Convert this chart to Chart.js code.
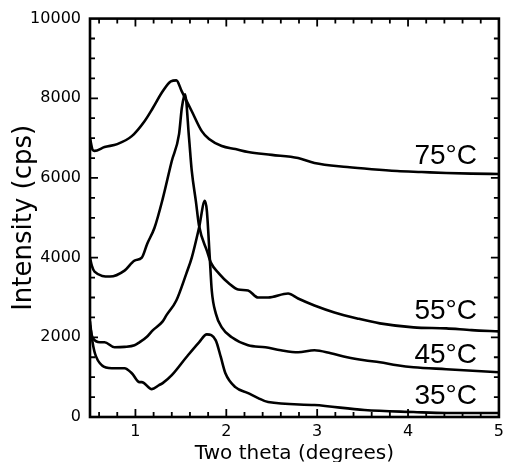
<!DOCTYPE html>
<html>
<head>
<meta charset="utf-8">
<script src="https://cdn.jsdelivr.net/npm/chart.js@4.4.1/dist/chart.umd.min.js"></script>
<style>
  html, body { margin: 0; padding: 0; background: #fff; }
  #wrap { width: 509px; height: 462px; }
</style>
</head>
<body>
<div id="wrap"><canvas id="xrd" width="509" height="462"></canvas></div>
<script>
// Values (two theta in degrees, intensity in cps)
const T75_X = [0.50, 0.53, 0.55, 0.66, 0.80, 0.96, 1.10, 1.19, 1.30, 1.39, 1.45, 1.51, 1.62, 1.73, 1.81, 1.95, 2.10, 2.24, 2.50, 2.79, 2.97, 3.33, 3.60, 3.88, 4.15, 4.42, 4.70, 5.00];
const T75_Y = [7000, 6700, 6680, 6775, 6850, 7050, 7425, 7750, 8175, 8425, 8450, 8175, 7675, 7175, 6975, 6800, 6725, 6650, 6580, 6500, 6375, 6275, 6220, 6175, 6150, 6125, 6110, 6100];

const T55_X = [0.50, 0.52, 0.55, 0.72, 0.88, 0.99, 1.07, 1.13, 1.21, 1.30, 1.40, 1.48, 1.51, 1.535, 1.546, 1.59, 1.62, 1.666, 1.70, 1.79, 1.83, 1.92, 2.03, 2.13, 2.24, 2.35, 2.46, 2.68, 2.79, 2.97, 3.19, 3.44, 3.69, 4.06, 4.42, 4.70, 5.00];
const T55_Y = [4000, 3800, 3650, 3525, 3675, 3925, 4000, 4350, 4750, 5475, 6425, 7100, 7750, 8050, 8100, 7000, 6175, 5400, 4800, 4150, 3875, 3600, 3350, 3200, 3175, 3000, 3000, 3100, 2975, 2800, 2625, 2475, 2350, 2250, 2225, 2180, 2150];

const T45_X = [0.50, 0.52, 0.533, 0.61, 0.66, 0.77, 0.88, 0.99, 1.045, 1.12, 1.19, 1.30, 1.34, 1.45, 1.56, 1.62, 1.70, 1.764, 1.786, 1.818, 1.84, 1.884, 1.95, 2.06, 2.24, 2.43, 2.60, 2.79, 2.97, 3.15, 3.33, 3.52, 3.69, 3.88, 4.06, 4.42, 5.00];
const T45_Y = [2300, 2050, 1975, 1875, 1875, 1750, 1760, 1800, 1875, 2000, 2175, 2400, 2550, 2925, 3600, 4000, 4750, 5425, 5175, 4000, 3175, 2600, 2250, 2000, 1800, 1750, 1675, 1625, 1675, 1600, 1500, 1425, 1375, 1300, 1250, 1200, 1125];

const T35_X = [0.50, 0.52, 0.554, 0.63, 0.74, 0.88, 0.96, 1.045, 1.07, 1.18, 1.26, 1.30, 1.40, 1.56, 1.70, 1.786, 1.884, 1.94, 1.99, 2.10, 2.24, 2.35, 2.46, 2.97, 3.52, 4.06, 4.42, 5.00];
const T35_Y = [2400, 2000, 1600, 1300, 1225, 1225, 1100, 875, 875, 700, 800, 850, 1050, 1500, 1875, 2075, 1925, 1500, 1100, 750, 600, 475, 375, 300, 175, 125, 100, 100];

const SERIES_NAMES = ['75°C', '55°C', '45°C', '35°C'];
// where each temperature label sits, in data units
const LABEL_X = [4.07, 4.07, 4.07, 4.07];
const LABEL_Y = [6550, 2650, 1550, 525];

const X_TICKS = [1, 2, 3, 4, 5];
const Y_TICKS = [0, 2000, 4000, 6000, 8000, 10000];

const FONT = 'DejaVu Sans';

function points(xs, ys) {
  return xs.map((x, i) => ({ x: x, y: ys[i] }));
}

// box frame with inward ticks on all four sides
const framePlugin = {
  id: 'frame',
  afterDraw(chart) {
    const { ctx, chartArea: a, scales } = chart;
    const xs = scales.x, ys = scales.y;
    ctx.save();
    ctx.strokeStyle = '#000';
    ctx.lineCap = 'butt';

    ctx.lineWidth = 1.8;
    ctx.beginPath();
    for (let v = 0.6; v < 5; v += 0.2) {
      const r = Math.round(v * 10) / 10;
      const major = Math.abs(r - Math.round(r)) < 1e-6;
      const len = major ? 8 : 5;
      const px = xs.getPixelForValue(r);
      ctx.moveTo(px, a.bottom); ctx.lineTo(px, a.bottom - len);
      ctx.moveTo(px, a.top); ctx.lineTo(px, a.top + len);
    }
    for (let v = 500; v < 10000; v += 500) {
      const major = v % 2000 === 0;
      const len = major ? 8 : 5;
      const py = ys.getPixelForValue(v);
      ctx.moveTo(a.left, py); ctx.lineTo(a.left + len, py);
      ctx.moveTo(a.right, py); ctx.lineTo(a.right - len, py);
    }
    ctx.stroke();

    ctx.lineWidth = 2.6;
    ctx.strokeRect(a.left, a.top, a.right - a.left, a.bottom - a.top);

    // temperature labels
    ctx.fillStyle = '#000';
    ctx.font = '28px "Liberation Sans"';
    ctx.textAlign = 'left';
    ctx.textBaseline = 'middle';
    SERIES_NAMES.forEach((name, i) => {
      ctx.fillText(name, xs.getPixelForValue(LABEL_X[i]), ys.getPixelForValue(LABEL_Y[i]));
    });
    ctx.restore();
  }
};

const lineStyle = {
  borderColor: '#000',
  borderWidth: 2.6,
  pointRadius: 0,
  fill: false,
  cubicInterpolationMode: 'monotone'
};

new Chart(document.getElementById('xrd'), {
  type: 'line',
  data: {
    datasets: [
      { label: SERIES_NAMES[0], data: points(T75_X, T75_Y), ...lineStyle },
      { label: SERIES_NAMES[1], data: points(T55_X, T55_Y), ...lineStyle },
      { label: SERIES_NAMES[2], data: points(T45_X, T45_Y), ...lineStyle },
      { label: SERIES_NAMES[3], data: points(T35_X, T35_Y), ...lineStyle }
    ]
  },
  options: {
    responsive: false,
    animation: false,
    layout: { padding: { top: 17, right: 6, left: 0, bottom: 0 } },
    plugins: { legend: { display: false }, tooltip: { enabled: false } },
    scales: {
      x: {
        type: 'linear',
        min: 0.5,
        max: 5,
        afterBuildTicks: (s) => { s.ticks = X_TICKS.map((v) => ({ value: v })); },
        afterFit: (s) => { s.height = 45; },
        grid: { display: false, drawTicks: false },
        border: { display: false },
        ticks: { color: '#000', padding: 5, font: { family: FONT, size: 16 }, callback: (v) => String(v) },
        title: { display: true, text: 'Two theta (degrees)', color: '#000', padding: 0, font: { family: FONT, size: 20, lineHeight: 0.85 } }
      },
      y: {
        min: 0,
        max: 10000,
        afterBuildTicks: (s) => { s.ticks = Y_TICKS.map((v) => ({ value: v })); },
        afterFit: (s) => { s.width = 90; },
        grid: { display: false, drawTicks: false },
        border: { display: false },
        ticks: { color: '#000', padding: 9, font: { family: FONT, size: 16 }, callback: (v) => String(v) },
        title: { display: true, text: 'Intensity (cps)', color: '#000', padding: { top: 11, bottom: 0 }, font: { family: FONT, size: 26, lineHeight: 1 } }
      }
    }
  },
  plugins: [framePlugin]
});
</script>
</body>
</html>
